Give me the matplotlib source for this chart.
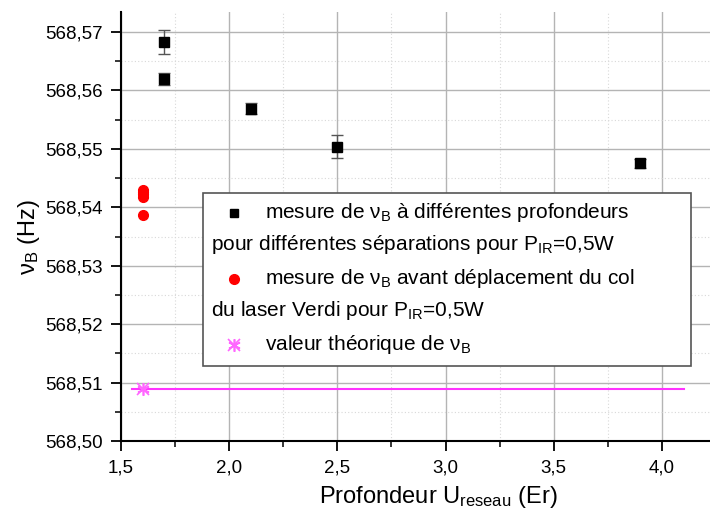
import matplotlib
matplotlib.use("Agg")
import matplotlib.pyplot as plt
from matplotlib.ticker import MultipleLocator, FuncFormatter
from matplotlib.lines import Line2D
from matplotlib.patches import Rectangle

plt.rcParams['font.family'] = ['Liberation Sans', 'DejaVu Sans']
plt.rcParams['mathtext.fontset'] = 'custom'
plt.rcParams['mathtext.rm'] = 'Liberation Sans'
plt.rcParams['mathtext.it'] = 'Liberation Sans:italic'

# mesures a differentes profondeurs (noir)
x_prof = [1.7, 1.7, 2.1, 2.5, 3.9]
y_prof = [568.5683, 568.5620, 568.5569, 568.5504, 568.5475]
err_prof = [0.0020, 0.0010, 0.0009, 0.0020, 0.0008]

# mesures avant deplacement du col (rouge)
x_col = [1.6, 1.6, 1.6, 1.6, 1.6]
y_col = [568.5429, 568.5426, 568.5422, 568.5418, 568.5386]

# valeur theorique
x_theo = [1.6]
y_theo = [568.5089]
x_line = [1.55, 4.10]
y_line = [568.5089, 568.5089]

fig = plt.figure(figsize=(7.1, 5.22), dpi=100)
ax = fig.add_axes([0.1704, 0.155, 0.8296, 0.8218])

ax.set_xlim(1.5, 4.222)
ax.set_ylim(568.50, 568.5734)

ax.xaxis.set_major_locator(MultipleLocator(0.5))
ax.xaxis.set_minor_locator(MultipleLocator(0.25))
ax.yaxis.set_major_locator(MultipleLocator(0.01))
ax.yaxis.set_minor_locator(MultipleLocator(0.005))
ax.xaxis.set_major_formatter(FuncFormatter(lambda v, p: ("%.1f" % v).replace('.', ',')))
ax.yaxis.set_major_formatter(FuncFormatter(lambda v, p: ("%.2f" % v).replace('.', ',')))

ax.grid(which='major', color='#b4b4b4', lw=1.0, ls='-')
ax.grid(which='minor', color='#d8d8d8', lw=0.8, ls=(0, (1, 2)))
ax.set_axisbelow(True)

for s in ['top', 'right']:
    ax.spines[s].set_visible(False)
for s in ['left', 'bottom']:
    ax.spines[s].set_linewidth(1.5)
ax.tick_params(which='major', direction='out', length=7, width=1.3, labelsize=13.5, pad=6)
ax.tick_params(which='minor', direction='out', length=4, width=1.1)

ax.plot(x_line, y_line, color='#ff33ff', lw=1.5, zorder=2)
ax.errorbar(x_prof, y_prof, yerr=err_prof, fmt='s', color='black', ms=7.5,
            ecolor='#555555', elinewidth=1.0, capsize=4, capthick=1.0, zorder=3)
ax.plot(x_col, y_col, 'o', color='red', ms=7, mec='red', zorder=3)
ax.plot(x_theo, y_theo, marker=(6, 2, 0), color='#ff66ff', ms=9, mew=1.2, ls='none', zorder=3)
ax.plot(x_theo, y_theo, 'x', color='#ff66ff', ms=8, mew=1.2, zorder=3)

ax.set_xlabel("Profondeur U$_{\\mathrm{reseau}}$ (Er)", fontsize=17)
ax.set_ylabel("ν$_{\\mathrm{B}}$ (Hz)", fontsize=17)
ax.xaxis.set_label_coords(0.538, -0.100)
ax.yaxis.set_label_coords(-0.134, 0.476)

# legende manuelle
W, H = 710.0, 522.0
def fx(px):
    return px / W
def fy(py):
    return 1 - py / H

fig.add_artist(Rectangle((fx(203), fy(366)), fx(691) - fx(203), fy(193) - fy(366),
                         transform=fig.transFigure, facecolor='white',
                         edgecolor='#555555', lw=1.2, zorder=5))
fig.add_artist(Line2D([fx(234)], [fy(213)], marker='s', color='black', ms=6,
                      transform=fig.transFigure, zorder=6))
fig.add_artist(Line2D([fx(234)], [fy(279)], marker='o', color='red', ms=7,
                      transform=fig.transFigure, zorder=6))
fig.add_artist(Line2D([fx(234)], [fy(345)], marker=(6, 2, 0), color='#ff66ff', ms=9, mew=1.2,
                      transform=fig.transFigure, zorder=6))
fig.add_artist(Line2D([fx(234)], [fy(345)], marker='x', color='#ff66ff', ms=8, mew=1.2,
                      transform=fig.transFigure, zorder=6))

leg_lines = [
    (265, 213, "mesure de ν$_{\\mathrm{B}}$ à différentes profondeurs"),
    (211, 245, "pour différentes séparations pour P$_{\\mathrm{IR}}$=0,5W"),
    (265, 279, "mesure de ν$_{\\mathrm{B}}$ avant déplacement du col"),
    (211, 311, "du laser Verdi pour P$_{\\mathrm{IR}}$=0,5W"),
    (265, 345, "valeur théorique de ν$_{\\mathrm{B}}$"),
]
for px, py, txt in leg_lines:
    fig.text(fx(px), fy(py), txt, fontsize=15, va='center', ha='left', zorder=7)

fig.savefig("out.png", dpi=100)
